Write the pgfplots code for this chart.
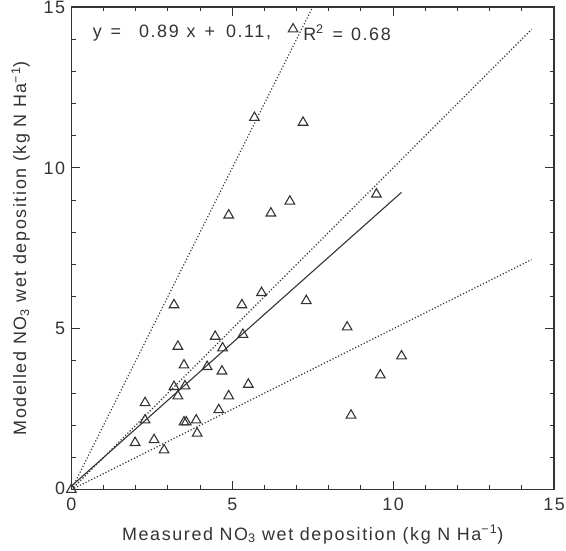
\documentclass[border=0pt]{standalone}
\usepackage{fontspec}
\setmainfont{Liberation Sans}[LetterSpace=9]
\usepackage{pgfplots}
\pgfplotsset{compat=1.18}
\definecolor{ink}{HTML}{333333}
\begin{document}
\fontsize{18bp}{21bp}\selectfont
\begin{tikzpicture}
\begin{axis}[
  scale only axis, width=485bp, height=485bp,
  xmin=0, xmax=15, ymin=0, ymax=15,
  xtick={0,5,10,15}, ytick={0,5,10,15},
  yticklabels={\raisebox{3bp}{0}, 5, 10, \raisebox{-7bp}{15}},
  minor tick num=4,
  major tick length=9bp, minor tick length=4.5bp,
  tick align=inside,
  tick style={ink, line width=1pt},
  axis line style={ink, line width=1.2pt},
  /pgf/number format/assume math mode=true,
  ticklabel style={text=ink},
  xticklabel style={yshift=-2bp},
  label style={text=ink},
  xlabel={Measured NO\textsubscript{3} wet deposition (kg N Ha\textsuperscript{−1})},
  ylabel={Modelled NO\textsubscript{3} wet deposition (kg N Ha\textsuperscript{−1})},
  x label style={at={(axis description cs:0.5,-0.093)}, anchor=center},
  y label style={at={(axis description cs:-0.105,0.5)}, anchor=center},
  clip mode=individual,
]
\addplot[ink, line width=1.1pt] coordinates {(0,0.11) (10.26,9.24)};
\addplot[ink, dotted, line width=1.2pt] coordinates {(0,0) (14.3,14.3)};
\addplot[ink, dotted, line width=1.2pt] coordinates {(0,0) (7.5,15)};
\addplot[ink, dotted, line width=1.2pt] coordinates {(0,0) (14.3,7.15)};
\addplot[only marks, mark=triangle, mark size=5.6bp, mark options={ink, line width=1.1pt}] coordinates {
(6.89,14.31) (5.69,11.56) (7.20,11.41) (4.89,8.53) (6.20,8.59) (6.79,8.96)
(9.48,9.18) (7.30,5.87) (8.57,5.05) (10.26,4.15) (9.60,3.56) (8.69,2.31)
(5.91,6.12) (5.30,5.74) (3.19,5.74) (4.47,4.76) (5.33,4.82) (4.70,4.40)
(3.31,4.45) (3.50,3.87) (4.22,3.82) (4.68,3.68) (5.50,3.27) (3.19,3.20)
(3.53,3.22) (3.31,2.91) (4.89,2.91) (2.29,2.70) (4.58,2.48) (2.29,2.16)
(3.50,2.10) (3.57,2.10) (3.88,2.16) (3.91,1.75) (1.98,1.46) (2.57,1.55)
(2.88,1.23) (0,0)
};
\node[anchor=west, text=ink, inner sep=0pt] at (axis cs:0.66,14.2) {y\hspace{9bp}=\hspace{18bp}0.89\hspace{8bp}x\hspace{9bp}+\hspace{11bp}0.11,};
\node[anchor=west, text=ink, inner sep=0pt] at (axis cs:7.2,14.2) {R\textsuperscript{2}\hspace{9bp}=\hspace{8bp}0.68};
\coordinate (ll) at (rel axis cs:0,0);
\coordinate (ur) at (rel axis cs:1,1);
\end{axis}
\pgfresetboundingbox
\path ([shift={(-71.7bp,-61bp)}]ll) rectangle ([shift={(12bp,7bp)}]ur);
\end{tikzpicture}
\end{document}
